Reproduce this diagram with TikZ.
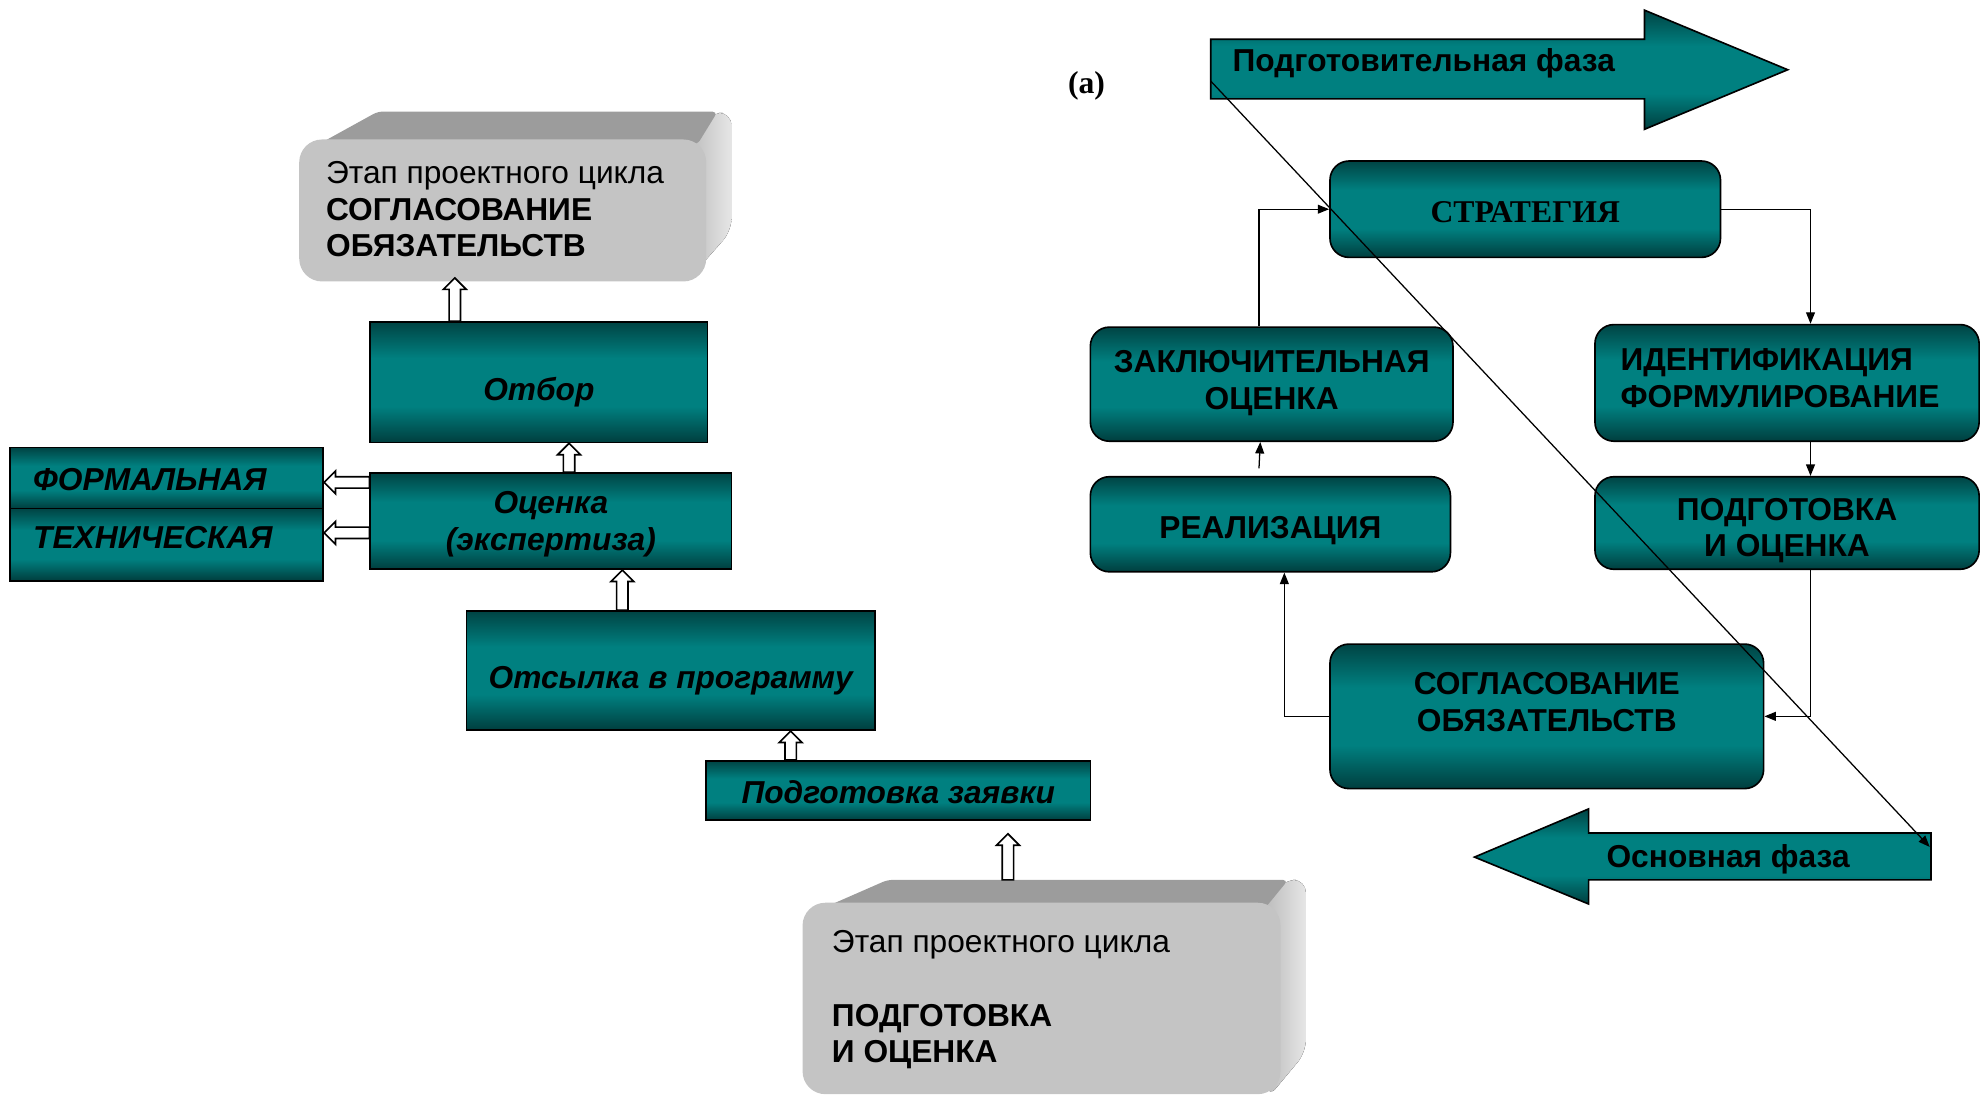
\documentclass[tikz,border=0pt]{standalone}
\usepackage{fontspec}
\setmainfont{Liberation Sans}
\newfontfamily\timesfont{Liberation Serif}
\usetikzlibrary{arrows.meta,calc}
\definecolor{tmid}{HTML}{008080}
\definecolor{ttop}{HTML}{004444}
\definecolor{tbot}{HTML}{003E3E}
\definecolor{gfront}{HTML}{C4C4C4}
\definecolor{gtopc}{HTML}{9C9C9C}
\definecolor{gsideA}{HTML}{B8B8B8}
\definecolor{gsideB}{HTML}{E6E6E6}
\pgfdeclareverticalshading{tealsh}{100bp}{color(0bp)=(tbot); color(25bp)=(tbot); color(40bp)=(tmid); color(60bp)=(tmid); color(75bp)=(ttop); color(100bp)=(ttop)}
\newcommand\hollowarrow[2]{%
  \path ($(#2)!9pt!(#1)$) coordinate (ha-h);
  \draw[hollow] ($(#1)!4.5pt!90:(#2)$) -- ($(ha-h)!4.5pt!90:(#2)$) -- ($(ha-h)!9pt!90:(#2)$) -- (#2) -- ($(ha-h)!9pt!-90:(#2)$) -- ($(ha-h)!4.5pt!-90:(#2)$) -- ($(#1)!4.5pt!-90:(#2)$) -- cycle;}
\begin{document}
\begin{tikzpicture}[x=1pt,y=-1pt,
  every node/.style={font=\fontsize{25}{29}\selectfont},
  tealbox/.style={draw=black, line width=1.3pt, shade, shading=tealsh, inner sep=0pt},
  lbox/.style={tealbox},
  rbox/.style={tealbox, rounded corners=15pt},
  ltxt/.style={inner sep=0pt, align=center, font=\fontsize{25}{29}\selectfont\bfseries\itshape},
  rtxt/.style={inner sep=0pt, align=center, font=\fontsize{25}{29}\selectfont\bfseries},
  hollow/.style={draw=black, fill=white, line width=1.3pt, line join=miter},
  conn/.style={draw=black, line width=1pt, -{Triangle[length=9pt,width=7pt]}},
  grayfront/.style={fill=gfront, rounded corners=18pt, inner sep=0pt},
  txt/.style={inner sep=0pt, align=left},
]
\useasboundingbox (0,0) rectangle (1568,865);

% ---------- top gray 3D box ----------
\fill[left color=gsideA, right color=gsideB, rounded corners=10pt] (540,120) -- (560,89) -- (577,89) -- (577,182) -- (540,224) -- cycle;
\fill[gtopc, rounded corners=4pt] (240,120) -- (298,88) -- (566,88) -- (550,114) -- cycle;
\node[grayfront, minimum width=321pt, minimum height=112pt] (gtop) at (396.5,166) {};
\node[txt, anchor=west] (gtoptxt) at (257,165) {Этап проектного цикла\\\textbf{СОГЛАСОВАНИЕ}\\\textbf{ОБЯЗАТЕЛЬСТВ}};

% ---------- bottom gray 3D box ----------
\fill[left color=gsideA, right color=gsideB, rounded corners=10pt] (995,720) -- (1012,694) -- (1030,694) -- (1030,830) -- (1000,866) -- cycle;
\fill[gtopc, rounded corners=4pt] (636,722) -- (700,694) -- (1016,694) -- (998,716) -- cycle;
\node[grayfront, minimum width=377pt, minimum height=151pt] (gbot) at (821.5,787.5) {};
\node[txt, anchor=west] (gbottxt) at (656,788.5) {Этап проектного цикла\\[29pt]\textbf{ПОДГОТОВКА}\\\textbf{И ОЦЕНКА}};

% ---------- left teal boxes ----------
\node[lbox, minimum width=266pt, minimum height=95pt] (otbor) at (425,301.5) {};
\node[ltxt] (otbor-t) at (425,309.5) {Отбор};
\node[lbox, minimum width=285pt, minimum height=76pt] (ocenka) at (434.5,411) {};
\node[ltxt] (ocenka-t) at (434.5,413.5) {Оценка\\(экспертиза)};
\node[lbox, minimum width=247pt, minimum height=48pt] (formal) at (131.5,377) {};
\node[ltxt, anchor=west] (formal-t) at (26,378) {ФОРМАЛЬНАЯ};
\node[lbox, minimum width=247pt, minimum height=57pt] (tech) at (131.5,429.5) {};
\node[ltxt, anchor=west] (tech-t) at (26,424) {ТЕХНИЧЕСКАЯ};
\node[lbox, minimum width=322pt, minimum height=94pt] (otsyl) at (529,529) {};
\node[ltxt] (otsyl-t) at (529,537) {Отсылка в программу};
\node[lbox, minimum width=303pt, minimum height=47pt] (zayav) at (708.5,623.5) {};
\node[ltxt] (zayav-t) at (708.5,624.5) {Подготовка заявки};

% ---------- hollow arrows ----------
\coordinate (h1s) at ($(otbor.north west)!0.252!(otbor.north east)$);
\path (h1s |- gtop.south) ++(0,-3) coordinate (h1t);
\hollowarrow{h1s}{h1t}
\coordinate (h2s) at ($(ocenka.north west)!0.55!(ocenka.north east)$);
\coordinate (h2t) at (h2s |- otbor.south);
\hollowarrow{h2s}{h2t}
\coordinate (h3s) at ($(ocenka.north west)!0.105!(ocenka.south west)$);
\coordinate (h3t) at (h3s -| formal.east);
\hollowarrow{h3s}{h3t}
\coordinate (h4s) at ($(ocenka.north west)!0.62!(ocenka.south west)$);
\coordinate (h4t) at (h4s -| tech.east);
\hollowarrow{h4s}{h4t}
\coordinate (h5s) at ($(otsyl.north west)!0.382!(otsyl.north east)$);
\coordinate (h5t) at (h5s |- ocenka.south);
\hollowarrow{h5s}{h5t}
\coordinate (h6s) at ($(zayav.north west)!0.221!(zayav.north east)$);
\coordinate (h6t) at (h6s |- otsyl.south);
\hollowarrow{h6s}{h6t}
\coordinate (h7s) at (795,694);
\path (h7s |- zayav.south) ++(0,10) coordinate (h7t);
\hollowarrow{h7s}{h7t}

% ---------- right part ----------
\node[font=\fontsize{25}{29}\selectfont\timesfont\bfseries] (lbl) at (857,68) {(a)};

\shadedraw[shading=tealsh, draw=black, line width=1.3pt] (955,31) -- (1297,31) -- (1297,8) -- (1410,55) -- (1297,102) -- (1297,78) -- (955,78) -- cycle;
\node[rtxt, anchor=west] (phase1) at (972,50) {Подготовительная фаза};
\shadedraw[shading=tealsh, draw=black, line width=1.3pt] (1523,657) -- (1253,657) -- (1253,638) -- (1163,676) -- (1253,713) -- (1253,694) -- (1523,694) -- cycle;
\node[rtxt] (phase2) at (1363,678) {Основная фаза};

\node[rbox, minimum width=308pt, minimum height=76pt] (strat) at (1203,165) {};
\node[rtxt, font=\fontsize{25}{29}\selectfont\timesfont\bfseries] (strat-t) at (1203,167) {СТРАТЕГИЯ};
\node[rbox, minimum width=286pt, minimum height=90pt] (zakl) at (1003,303) {};
\node[rtxt] (zakl-t) at (1003,302) {ЗАКЛЮЧИТЕЛЬНАЯ\\ОЦЕНКА};
\node[rbox, minimum width=303pt, minimum height=92pt] (ident) at (1409.5,302) {};
\node[rtxt, align=left, anchor=west] (ident-t) at (1278,298) {ИДЕНТИФИКАЦИЯ\\ФОРМУЛИРОВАНИЕ};
\node[rbox, minimum width=284pt, minimum height=75pt] (real) at (1002,413.5) {};
\node[rtxt] (real-t) at (1002,418.5) {РЕАЛИЗАЦИЯ};
\node[rbox, minimum width=303pt, minimum height=73pt] (podg) at (1409.5,412.5) {};
\node[rtxt] (podg-t) at (1409.5,418.5) {ПОДГОТОВКА\\И ОЦЕНКА};
\node[rbox, minimum width=342pt, minimum height=114pt] (sogl) at (1220,565) {};
\node[rtxt] (sogl-t) at (1220,553.5) {СОГЛАСОВАНИЕ\\ОБЯЗАТЕЛЬСТВ};

\draw[conn] ([xshift=-10pt]zakl.north) |- (strat.west);
\draw[conn] (strat.east) -| ([xshift=18.5pt]ident.north);
\draw[conn] ([xshift=18.5pt]ident.south) -- ([xshift=18.5pt]podg.north);
\draw[conn] ([xshift=18.5pt]podg.south) |- (sogl.east);
\draw[conn] (sogl.west) -| ([xshift=11pt]real.south);
\draw[conn] ([xshift=-9pt,yshift=6pt]real.north) -- ([xshift=-9pt]zakl.south);

\coordinate (dS) at (955,64);
\coordinate (dE) at (1522,668);
\draw[conn] (dS) -- (dE);
\end{tikzpicture}
\end{document}
